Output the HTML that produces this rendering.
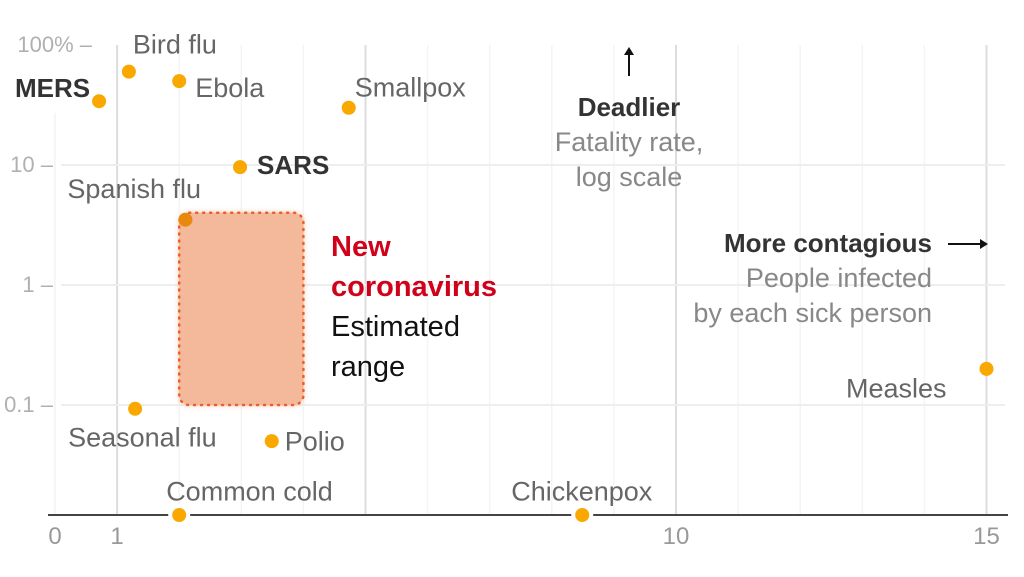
<!DOCTYPE html>
<html><head><meta charset="utf-8"><style>
html,body{margin:0;padding:0;background:#fff;width:1024px;height:577px;overflow:hidden}
svg text{font-family:"Liberation Sans",sans-serif}
</style></head><body>
<svg id="chart" width="1024" height="577" viewBox="0 0 1024 577">
<defs><filter id="blur" x="-20%" y="-20%" width="140%" height="140%"><feGaussianBlur stdDeviation="3"/></filter></defs>
<g id="grid"></g>
<g id="axes"></g>
<g id="range"></g>
<g id="pts"></g>
<g>
<text x="331" y="256" font-size="29" font-weight="bold" fill="#d0021b">New</text>
<text x="331" y="296" font-size="29" font-weight="bold" fill="#d0021b">coronavirus</text>
<text x="331" y="336" font-size="29" fill="#111">Estimated</text>
<text x="331" y="376" font-size="29" fill="#111">range</text>
<text x="629" y="116" font-size="26" font-weight="bold" fill="#333" text-anchor="middle">Deadlier</text>
<text x="629" y="151" font-size="27" fill="#888" text-anchor="middle">Fatality rate,</text>
<text x="629" y="186" font-size="27" fill="#888" text-anchor="middle">log scale</text>
<line x1="629" y1="76" x2="629" y2="52" stroke="#111" stroke-width="2"/>
<path d="M624,55 L629,47 L634,55 Z" fill="#111"/>
<text x="932" y="252" font-size="26" font-weight="bold" fill="#333" text-anchor="end">More contagious</text>
<text x="932" y="287" font-size="27" fill="#888" text-anchor="end">People infected</text>
<text x="932" y="322" font-size="27" fill="#888" text-anchor="end">by each sick person</text>
<line x1="948" y1="244" x2="982" y2="244" stroke="#111" stroke-width="2"/>
<path d="M980,239 L988,244 L980,249 Z" fill="#111"/>
</g>
</svg>
<script>
const names=["MERS","Bird flu","Ebola","Smallpox","SARS","Spanish flu","Seasonal flu","Polio","Measles","Common cold","Chickenpox"];
const contagion=[0.71,1.19,2.0,4.73,2.98,2.1,1.29,3.49,15,2.0,8.49];
const fatality=[34,60,50,30,9.6,3.5,0.093,0.05,0.2,null,null];
const yTicks=[100,10,1,0.1];
const yTickLabels=["100%","10","1","0.1"];
const xTicks=[0,1,10,15];
const rangeX=[2.0,4.0];
const rangeY=[4,0.1];
const X=v=>55+v*62.1;
const Y=v=>v==null?515:45+(2-Math.log10(v))*120;
const NS="http://www.w3.org/2000/svg";
function mk(p,t,a){const e=document.createElementNS(NS,t);for(const k in a)e.setAttribute(k,a[k]);p.appendChild(e);return e;}
const grid=document.getElementById('grid'),axes=document.getElementById('axes');
for(let i=0;i<=15;i++){
 const major=(i===1||i===5||i===10||i===15);
 const g=mk(grid,'line',{x1:X(i),x2:X(i),y1:i===0?113:45,y2:515,stroke:major?'#ddd':'#f4f4f4','stroke-width':major?2:1.5});
 
 
}
yTicks.forEach((t,i)=>{
 if(i>0){const l=mk(grid,'line',{x1:61,x2:1005,y1:Y(t),y2:Y(t),stroke:'#eee','stroke-width':2});
 
 }
 const tx=mk(axes,'text',{x:i===0?92:53,y:Y(t)+7,'font-size':22,fill:'#b0b0b0','text-anchor':'end'});
 tx.textContent=yTickLabels[i]+' –';
 
 
});
const base=mk(axes,'line',{x1:48,x2:1008,y1:515,y2:515,stroke:'#444','stroke-width':2});


xTicks.forEach(t=>{
 const tx=mk(axes,'text',{x:X(t),y:544,'font-size':24,fill:'#999','text-anchor':'middle'});
 tx.textContent=t;
 
 
});
const rg=document.getElementById('range');
const rx=X(rangeX[0]),rw=X(rangeX[1])-rx,ry=Y(rangeY[0]),rh=Y(rangeY[1])-ry;
mk(rg,'rect',{x:rx,y:ry,width:rw,height:rh,rx:10,fill:'#f0a47e',opacity:0.7,filter:'url(#blur)'});
const rr=mk(rg,'rect',{x:rx,y:ry,width:rw,height:rh,rx:10,fill:'#f4b99a',stroke:'#e8602c','stroke-width':2.5,'stroke-dasharray':'1 6','stroke-linecap':'round'});


const labels={"MERS":[-9,-4,'end',true],"Bird flu":[4,-18,'start',false],"Ebola":[16,16,'start',false],"Smallpox":[6,-11,'start',false],"SARS":[17,7,'start',true],"Spanish flu":[-118,-21.5,'start',false],"Seasonal flu":[-67,37.5,'start',false],"Polio":[13,9.5,'start',false],"Measles":[-40,28.5,'end',false],"Common cold":[-13,-14.5,'start',false],"Chickenpox":[-71,-14.5,'start',false]};
const pts=document.getElementById('pts');
names.forEach((n,i)=>{
 const cx=X(contagion[i]),cy=Y(fatality[i]);
 if(fatality[i]==null) mk(pts,'circle',{cx,cy,r:11,fill:'#fff'});
 const c=mk(pts,'circle',{cx,cy,r:7,fill:n==="Spanish flu"?'#e8880c':'#f9a800'});
 
 
 const L=labels[n];
 const t=mk(pts,'text',{x:cx+L[0],y:cy+L[1],'font-size':L[3]?26:27,'font-weight':L[3]?'bold':'normal',fill:L[3]?'#333':'#666','text-anchor':L[2]});
 t.textContent=n;
 
 
});
</script>
</body></html>
